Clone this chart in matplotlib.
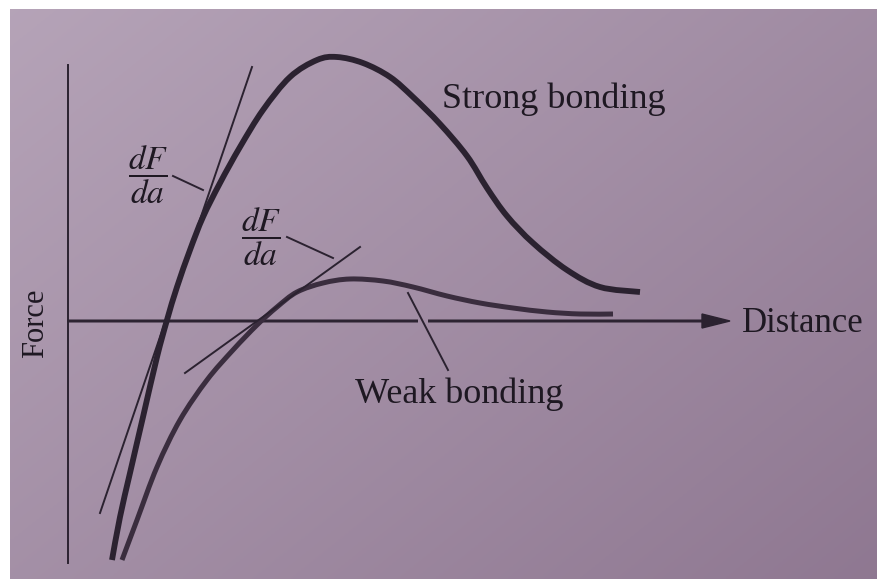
import numpy as np
import matplotlib
matplotlib.use("Agg")
import matplotlib.pyplot as plt
from matplotlib.path import Path
from matplotlib.patches import PathPatch

# Force vs. interatomic distance, origin at the axes crossing
strong_dist = [44, 52, 62, 75, 89, 99, 109, 122, 135, 152, 172, 195, 222, 249, 269,
               295, 322, 345, 372, 399, 419, 439, 465, 499, 532, 572]
strong_force = [-239, -196, -152, -96, -36, 1, 34, 71, 104, 138, 174, 211, 244, 261, 264,
                258, 244, 224, 197, 165, 133, 105, 78, 51, 34, 29]

weak_dist = [54, 69, 89, 112, 139, 165, 189, 209, 229, 255, 282, 315, 345, 379, 412,
             445, 479, 512, 545]
weak_force = [-239, -199, -146, -99, -59, -29, -4, 14, 29, 38, 42, 40, 34, 25, 18,
              13, 9, 7, 7]

# slope (dF/da) tangents at F = 0
tangent_strong_dist = [32, 184]
tangent_strong_force = [-192, 254]
tangent_weak_dist = [117, 292]
tangent_weak_force = [-52, 74]

ink = "#2b2230"
plt.rcParams["font.family"] = ["Liberation Serif", "DejaVu Serif"]
plt.rcParams["mathtext.fontset"] = "stix"

light = np.array([0.71, 0.64, 0.72])
dark = np.array([0.56, 0.47, 0.57])
X0, X1, Y0, Y1 = -58, 810, -258, 312


def paper(x, y):
    # background shade at a data point
    u = (x - X0) / (X1 - X0)
    v = (Y1 - y) / (Y1 - Y0)
    t = np.clip(0.55 * u + 0.45 * v, 0, 1)
    return light * (1 - t) + dark * t


def smooth_path(xs, ys):
    # Catmull-Rom through the points, as cubic Bezier segments
    p = np.column_stack([xs, ys]).astype(float)
    verts = [p[0]]
    codes = [Path.MOVETO]
    for i in range(len(p) - 1):
        p0 = p[i - 1] if i > 0 else p[i]
        p3 = p[i + 2] if i + 2 < len(p) else p[i + 1]
        c1 = p[i] + (p[i + 1] - p0) / 6
        c2 = p[i + 1] - (p3 - p[i]) / 6
        verts += [c1, c2, p[i + 1]]
        codes += [Path.CURVE4] * 3
    return Path(verts, codes)


fig = plt.figure(figsize=(8.78, 5.79), dpi=100)
ax = fig.add_axes([0, 0, 1, 1])
ax.set_xlim(-68, 810)
ax.set_ylim(-258, 321)
ax.axis("off")

gx, gy = np.meshgrid(np.linspace(X0, X1, 200), np.linspace(Y1, Y0, 200))
ax.imshow(paper(gx[..., None], gy[..., None]), extent=(X0, X1, Y0, Y1),
          origin="upper", aspect="auto", zorder=0)

# axes
ax.plot([0, 0], [-242, 256], color=ink, lw=1.4, zorder=2)
ax.arrow(0, 0, 662, 0, width=1.6, head_width=14, head_length=28,
         length_includes_head=True, color=ink, zorder=2)

# curves and tangents
ax.add_patch(PathPatch(smooth_path(strong_dist, strong_force), fill=False,
                       edgecolor=ink, lw=4.2, capstyle="butt", zorder=3))
ax.add_patch(PathPatch(smooth_path(weak_dist, weak_force), fill=False,
                       edgecolor="#3a2d3e", lw=3.6, capstyle="butt", zorder=3))
ax.plot(tangent_strong_dist, tangent_strong_force, color=ink, lw=1.4, zorder=3)
ax.plot(tangent_weak_dist, tangent_weak_force, color=ink, lw=1.4, zorder=3)

# leader lines
ax.plot([105, 135], [145, 131], color=ink, lw=1.4, zorder=3)
ax.plot([219, 265], [84, 63], color=ink, lw=1.4, zorder=3)
lead_x, lead_y = [340, 380], [28, -49]
ax.plot(lead_x, lead_y, color=ink, lw=1.4, zorder=4)
# small break in the distance axis where the weak-bonding leader crosses it
xc = np.interp(0, lead_y[::-1], lead_x[::-1])
ax.plot([xc - 5, xc + 5], [0, 0], color=paper(xc, 0), lw=3,
        solid_capstyle="butt", zorder=2.5)

# labels
txt = dict(color="#1e1822", zorder=5)
ax.text(674, -11, "Distance", fontsize=25, ha="left", va="baseline", **txt)
ax.text(374, 213, "Strong bonding", fontsize=26, ha="left", va="baseline", **txt)
ax.text(287, -82, "Weak bonding", fontsize=26, ha="left", va="baseline", **txt)
ax.text(-32, -2, "Force", fontsize=22, rotation=90, ha="center", va="center", **txt)
ax.text(80, 146, r"$\dfrac{dF}{da}$", fontsize=24, ha="center", va="center", **txt)
ax.text(193, 84, r"$\dfrac{dF}{da}$", fontsize=24, ha="center", va="center", **txt)

fig.savefig("out.png", dpi=100, facecolor="white")
